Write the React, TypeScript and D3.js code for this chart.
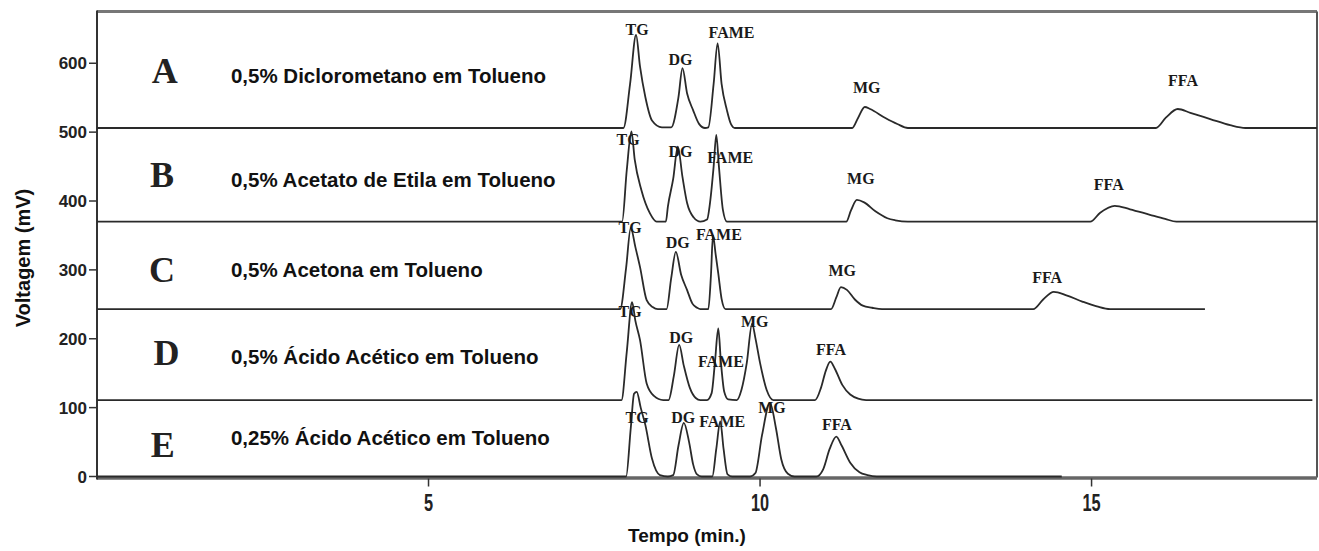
import React from "react";
import * as d3 from "d3";

const W = 1319;
const H = 551;

// axes
const xDomain: [number, number] = [0, 18.4];
const yDomain: [number, number] = [0, 675];
const xTicks = [5, 10, 15];
const yTicks = [0, 100, 200, 300, 400, 500, 600];

// panels
const panelLetters = ["A", "B", "C", "D", "E"];
const conditions = [
  "0,5% Diclorometano em Tolueno",
  "0,5% Acetato de Etila em Tolueno",
  "0,5% Acetona em Tolueno",
  "0,5% Ácido Acético em Tolueno",
  "0,25% Ácido Acético em Tolueno",
];
const baselines = [506, 370, 243, 111, 0]; // mV offset of each chromatogram

// chromatogram traces: [time (min), signal above own baseline (mV)]
const traceA: [number, number][] = [
  [0, 0], [7.94, 0], [8.04, 64], [8.13, 135], [8.19, 89], [8.27, 45], [8.37, 11], [8.52, 1],
  [8.66, 1], [8.77, 45], [8.83, 87], [8.90, 50], [8.99, 26], [9.08, 6], [9.17, 0],
  [9.22, 1], [9.30, 64], [9.36, 123], [9.42, 64], [9.50, 26], [9.56, 6], [9.62, 0],
  [11.39, 0], [11.48, 15], [11.58, 30.5], [11.66, 27.6], [11.89, 14.5], [12.07, 5.8], [12.23, 0],
  [15.97, 0], [16.12, 15], [16.30, 27.6], [16.49, 22], [16.79, 13], [17.09, 4], [17.32, 0],
  [18.4, 0],
];
const traceB: [number, number][] = [
  [0, 0], [7.92, 0], [7.99, 75], [8.06, 131], [8.11, 90], [8.21, 46], [8.34, 12], [8.44, 0],
  [8.58, 0], [8.61, 22], [8.69, 62], [8.76, 109], [8.83, 65], [8.90, 27], [9.0, 6], [9.10, 0],
  [9.20, 3], [9.25, 31], [9.30, 80], [9.34, 126], [9.38, 80], [9.44, 17], [9.50, 0],
  [11.30, 0], [11.37, 16], [11.46, 31.5], [11.57, 28], [11.74, 15], [11.92, 5], [12.04, 2], [12.23, 0],
  [14.98, 0], [15.13, 13], [15.35, 23], [15.58, 18], [15.88, 10], [16.11, 4], [16.28, 0],
  [18.4, 0],
];
const traceC: [number, number][] = [
  [0, 0], [7.89, 0], [7.98, 60], [8.05, 118], [8.12, 90], [8.19, 61], [8.29, 13], [8.38, 3], [8.46, 0],
  [8.59, 0], [8.66, 45], [8.73, 83], [8.81, 50], [8.90, 27.6], [8.98, 8], [9.05, 2], [9.10, 0],
  [9.22, 0], [9.26, 50], [9.29, 107], [9.33, 80], [9.37, 52], [9.42, 15], [9.48, 0],
  [11.07, 0], [11.15, 17], [11.22, 32], [11.31, 28], [11.43, 14], [11.55, 5], [11.69, 2], [11.84, 0],
  [14.12, 0], [14.27, 14], [14.43, 25], [14.62, 20], [14.86, 11], [15.08, 4], [15.28, 0],
  [16.71, 0],
];
const traceD: [number, number][] = [
  [0, 0], [7.91, 0], [7.99, 70], [8.07, 142], [8.12, 115], [8.19, 87], [8.29, 24], [8.40, 6], [8.54, 0],
  [8.62, 0], [8.70, 35], [8.78, 80], [8.85, 50], [8.94, 18], [9.03, 3], [9.10, 0],
  [9.20, 0], [9.27, 10], [9.32, 55], [9.37, 104], [9.41, 55], [9.46, 12], [9.52, 1], [9.65, 0],
  [9.72, 15], [9.80, 54], [9.88, 111], [9.93, 90], [10.0, 54], [10.10, 14.5], [10.20, 0],
  [10.83, 0], [10.92, 18], [10.99, 42], [11.06, 55.7], [11.13, 45], [11.24, 22], [11.36, 8], [11.48, 2], [11.60, 0],
  [18.33, 0],
];
const traceE: [number, number][] = [
  [0, 0], [7.98, 0], [8.05, 70], [8.10, 120], [8.14, 123], [8.20, 100], [8.27, 75], [8.37, 26], [8.49, 2], [8.61, 0],
  [8.69, 2], [8.77, 45], [8.85, 78], [8.93, 50], [8.99, 18], [9.05, 3], [9.12, 0],
  [9.28, 0], [9.34, 40], [9.40, 80], [9.45, 40], [9.51, 3], [9.58, 0],
  [9.85, 0], [9.93, 5], [10.03, 60], [10.15, 107], [10.24, 70], [10.32, 25], [10.42, 4], [10.52, 0],
  [10.85, 0], [10.95, 10], [11.05, 40], [11.15, 58], [11.23, 45], [11.36, 20], [11.50, 6], [11.62, 2], [11.76, 0],
  [14.55, 0],
];
const traces = [traceA, traceB, traceC, traceD, traceE];

// peak labels: [time, mV of text baseline]
const peakNames = ["TG", "DG", "FAME", "MG", "FFA"];
const labelsA: [number, number][] = [[8.145, 641], [8.8, 597.5], [9.57, 636], [11.61, 556.4], [16.38, 567]];
const labelsB: [number, number][] = [[8.01, 481.3], [8.8, 464.4], [9.55, 454.9], [11.52, 424.7], [15.26, 416]];
const labelsC: [number, number][] = [[8.04, 353.6], [8.76, 331.8], [9.38, 343.4], [11.24, 291.3], [14.33, 281.4]];
const labelsD: [number, number][] = [[8.04, 232], [8.81, 193.8], [9.41, 159.4], [9.92, 217.5], [11.07, 176.4]];
const labelsE: [number, number][] = [[8.145, 77.7], [8.84, 77.7], [9.43, 72.3], [10.18, 92.2], [11.16, 67.5]];
const peakLabels = [labelsA, labelsB, labelsC, labelsD, labelsE];

// panel letter and condition text anchors: [time, mV]
const letterPos: [number, number][] = [[1.02, 571], [0.98, 420.8], [0.98, 282.9], [1.05, 161.9], [0.99, 28.7]];
const conditionPos: [number, number][] = [[2.02, 571], [2.02, 420], [2.02, 289.2], [2.02, 163.3], [2.02, 45.7]];

export default function App() {
  const x = d3.scaleLinear().domain(xDomain).range([97, 1317]);
  const y = d3.scaleLinear().domain(yDomain).range([476.5, 11.6]);
  const [x0, x1] = x.range();
  const yBottom = y(0);
  const yTop = y(yDomain[1]);

  const makeLine = (base: number) =>
    d3
      .line<[number, number]>()
      .x((d) => x(d[0]))
      .y((d) => y(d[1] + base))
      .curve(d3.curveMonotoneX);

  const sans = "'Liberation Sans', Arial, sans-serif";
  const serif = "'Liberation Serif', 'Times New Roman', serif";

  return (
    <svg
      width={W}
      height={H}
      viewBox={`0 0 ${W} ${H}`}
      style={{ position: "absolute", left: 0, top: 0, display: "block", background: "#fff" }}
    >
      {/* frame */}
      <line x1={x0} x2={x1} y1={yTop} y2={yTop} stroke="#777" strokeWidth={3} />
      <line x1={x1} x2={x1} y1={yTop} y2={yBottom + 1} stroke="#555" strokeWidth={2} />
      {/* x axis */}
      <line x1={x0} x2={x1} y1={yBottom + 1.5} y2={yBottom + 1.5} stroke="#666" strokeWidth={3.5} />
      {xTicks.map((t) => (
        <g key={t}>
          <line x1={x(t)} x2={x(t)} y1={yBottom + 2} y2={yBottom + 10} stroke="#333" strokeWidth={1.5} />
          <text
            transform={`translate(${x(t)},511) scale(0.68,1)`}
            textAnchor="middle"
            fontFamily={sans}
            fontWeight="bold"
            fontSize={24}
            fill="#222"
          >
            {t}
          </text>
        </g>
      ))}
      {/* y axis */}
      <line x1={x0} x2={x0} y1={yTop - 1} y2={yBottom + 3} stroke="#333" strokeWidth={2} />
      {yTicks.map((v) => (
        <g key={v}>
          <line x1={x0 - 8} x2={x0} y1={y(v)} y2={y(v)} stroke="#333" strokeWidth={1.5} />
          <text
            x={x0 - 10}
            y={y(v) + 6}
            textAnchor="end"
            fontFamily={sans}
            fontWeight="bold"
            fontSize={17}
            fill="#222"
          >
            {v}
          </text>
        </g>
      ))}
      <text
        transform={`translate(30,258) rotate(-90)`}
        textAnchor="middle"
        fontFamily={sans}
        fontWeight="bold"
        fontSize={20}
        fill="#111"
      >
        Voltagem (mV)
      </text>
      <text x={687} y={542} textAnchor="middle" fontFamily={sans} fontWeight="bold" fontSize={19} fill="#111">
        Tempo (min.)
      </text>

      {/* traces */}
      {traces.map((tr, i) => (
        <path
          key={i}
          d={makeLine(baselines[i])(tr) || ""}
          fill="none"
          stroke="#2a2a2a"
          strokeWidth={1.8}
          strokeLinejoin="round"
        />
      ))}

      {/* peak labels */}
      {peakLabels.map((labs, i) =>
        labs.map((p, j) => (
          <text
            key={`${i}-${j}`}
            x={x(p[0])}
            y={y(p[1])}
            textAnchor="middle"
            fontFamily={serif}
            fontWeight="bold"
            fontSize={16}
            fill="#1a1a1a"
          >
            {peakNames[j]}
          </text>
        ))
      )}

      {/* panel letters and conditions */}
      {panelLetters.map((l, i) => (
        <g key={l}>
          <text
            x={x(letterPos[i][0])}
            y={y(letterPos[i][1])}
            textAnchor="middle"
            fontFamily={serif}
            fontWeight="bold"
            fontSize={36}
            fill="#222"
          >
            {l}
          </text>
          <text
            x={x(conditionPos[i][0])}
            y={y(conditionPos[i][1])}
            fontFamily={sans}
            fontWeight="bold"
            fontSize={20.5}
            fill="#111"
          >
            {conditions[i]}
          </text>
        </g>
      ))}
    </svg>
  );
}
